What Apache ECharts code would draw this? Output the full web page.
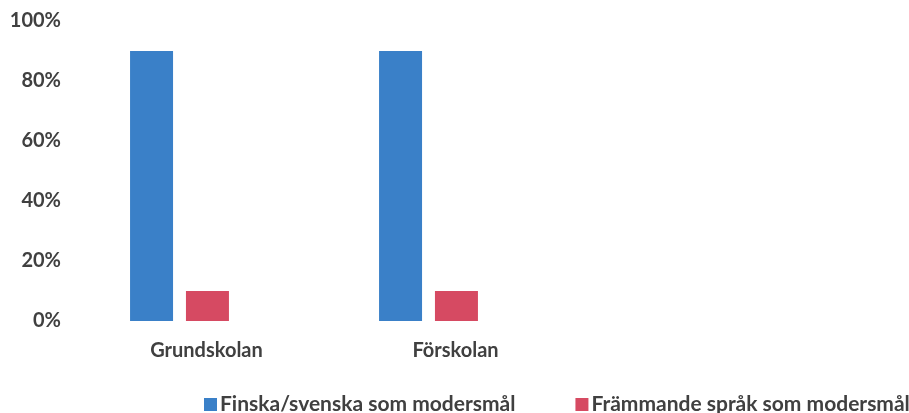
<!DOCTYPE html>
<html>
<head>
<meta charset="utf-8">
<script src="https://cdn.jsdelivr.net/npm/echarts@6/dist/echarts.min.js"></script>
<style>
  html, body { margin: 0; padding: 0; background: #fff; }
  #chart { width: 909px; height: 413px; }
</style>
</head>
<body>
<div id="chart"></div>
<script>
// kategorier och andelar (%)
const categories = ['Grundskolan', 'Förskolan']
const finskaSvenska = [90, 90]
const frammandeSprak = [10, 10]
const yTicks = [0, 20, 40, 60, 80, 100]

const myChart = echarts.init(document.getElementById('chart'))
const textColor = '#404040'
const fontFamily = 'Lato, "Open Sans", sans-serif'

myChart.setOption({
  animation: false,
  legend: {
    left: 199,
    top: 389,
    width: 760,
    itemWidth: 13,
    itemHeight: 13,
    itemGap: 60,
    icon: 'rect',
    textStyle: {
      color: textColor,
      fontSize: 21,
      fontWeight: 'bold',
      fontFamily: fontFamily,
      padding: [0, 0, 0, -2]
    },
    data: ['Finska/svenska som modersmål', 'Främmande språk som modersmål']
  },
  grid: {
    left: 55,
    right: 356,
    top: 21,
    bottom: 92
  },
  xAxis: {
    type: 'category',
    data: categories,
    axisLine: { show: false },
    axisTick: { show: false },
    axisLabel: {
      color: textColor,
      fontSize: 20,
      fontWeight: 'bold',
      fontFamily: fontFamily,
      margin: 20,
      padding: [0, 0, 0, 54]
    }
  },
  yAxis: {
    type: 'value',
    min: yTicks[0],
    max: yTicks[yTicks.length - 1],
    interval: 20,
    axisLine: { show: false },
    axisTick: { show: false },
    splitLine: { show: false },
    axisLabel: {
      color: textColor,
      fontSize: 20,
      fontWeight: 'bold',
      fontFamily: fontFamily,
      margin: -6,
      formatter: '{value}%'
    }
  },
  series: [
    {
      name: 'Finska/svenska som modersmål',
      type: 'bar',
      barWidth: 43,
      barGap: '30%',
      data: finskaSvenska,
      itemStyle: { color: '#3a80c8' }
    },
    {
      name: 'Främmande språk som modersmål',
      type: 'bar',
      barWidth: 43,
      data: frammandeSprak,
      itemStyle: { color: '#d64a62' }
    }
  ]
})
</script>
</body>
</html>
